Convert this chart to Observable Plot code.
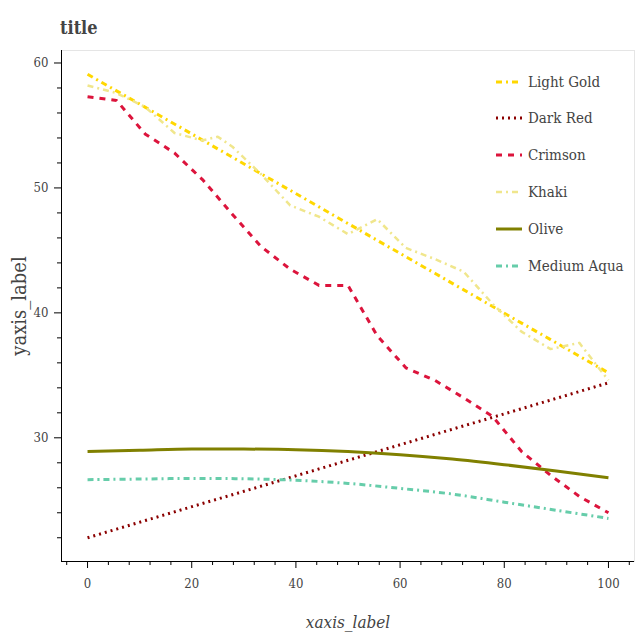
<!DOCTYPE html>
<html>
<head>
<meta charset="utf-8">
<script src="https://cdn.jsdelivr.net/npm/d3@7"></script>
<script src="https://cdn.jsdelivr.net/npm/@observablehq/plot@0.6"></script>
<style>
  body { margin: 0; background: #fff; }
  #wrap { position: relative; width: 640px; height: 640px; font-family: "DejaVu Serif Condensed", "DejaVu Serif", serif; font-stretch: condensed; }
  #title { position: absolute; left: 60px; top: 17px; font-weight: bold; font-size: 18px; color: #444; }
  #chart { position: absolute; left: 0; top: 40px; }
  .item { position: absolute; left: 496px; height: 20px; display: flex; align-items: center; font-size: 15px; color: #444; white-space: nowrap; }
  .item svg { margin-right: 6px; }
</style>
</head>
<body>
<div id="wrap">
  <div id="title">title</div>
  <div id="chart"></div>
</div>
<script>
// ---- data ----
const xs = [0, 5.56, 11.11, 16.67, 22.22, 27.78, 33.33, 38.89, 44.44, 50, 55.56, 61.11, 66.67, 72.22, 77.78, 83.33, 88.89, 94.44, 100];
const lightGold = [59.1, 57.77, 56.45, 55.12, 53.79, 52.46, 51.13, 49.81, 48.48, 47.15, 45.82, 44.49, 43.17, 41.84, 40.51, 39.18, 37.86, 36.53, 35.2];
const darkRed = [22.0, 22.69, 23.38, 24.07, 24.76, 25.44, 26.13, 26.82, 27.51, 28.2, 28.89, 29.58, 30.27, 30.96, 31.64, 32.33, 33.02, 33.71, 34.4];
const crimson = [57.3, 57.0, 54.3, 52.8, 50.6, 47.9, 45.3, 43.5, 42.2, 42.2, 38.2, 35.6, 34.6, 33.2, 31.7, 28.9, 27.0, 25.3, 24.0];
const khakiX = [0, 5.5, 11, 16.7, 22, 25, 27.8, 33.3, 38.9, 44.4, 50, 55.6, 61.1, 66.7, 72.2, 77.8, 83.3, 88.9, 94.4, 100];
const khaki = [58.2, 57.6, 56.5, 54.4, 53.8, 54.1, 53.3, 51.1, 48.6, 47.7, 46.3, 47.5, 45.2, 44.3, 43.3, 40.7, 38.5, 37.1, 37.6, 34.6];
const smoothX = [0, 10, 20, 30, 40, 50, 60, 70, 80, 90, 100];
const olive = [28.9, 29.0, 29.1, 29.1, 29.05, 28.9, 28.65, 28.3, 27.85, 27.35, 26.8];
const mediumAqua = [26.65, 26.7, 26.75, 26.72, 26.6, 26.35, 25.95, 25.5, 24.85, 24.2, 23.55];

const names = ["Light Gold", "Dark Red", "Crimson", "Khaki", "Olive", "Medium Aqua"];
const colors = ["#FFD700", "#8B0000", "#DC143C", "#F0E68C", "#808000", "#66CDAA"];
const dashes = ["6,4,2,4", "2,4", "6,6", "6,4,2,4", null, "6,4,2,4"];
const widths = [3, 3, 3, 2.5, 3, 3];

const xTicks = [0, 20, 40, 60, 80, 100];
const xMinor = [-4, 4, 8, 12, 16, 24, 28, 32, 36, 44, 48, 52, 56, 64, 68, 72, 76, 84, 88, 92, 96, 104];
const yTicks = [30, 40, 50, 60];
const yMinor = [22, 24, 26, 28, 32, 34, 36, 38, 42, 44, 46, 48, 52, 54, 56, 58];
const xDomain = [-5, 105];
const yDomain = [20.1, 61.0];

// ---- build table ----
const seriesData = [
  [xs, lightGold], [xs, darkRed], [xs, crimson], [khakiX, khaki], [smoothX, olive], [smoothX, mediumAqua]
];
const rows = [];
seriesData.forEach(([X, Y], k) => X.forEach((x, i) => rows.push({series: names[k], x, y: Y[i]})));

const curves = ["linear", "linear", "linear", "linear", "catmull-rom", "catmull-rom"];
const lineMarks = names.map((n, k) => Plot.line(rows.filter(r => r.series === n), {
  x: "x", y: "y", stroke: colors[k], strokeWidth: widths[k],
  strokeDasharray: dashes[k] ?? undefined, curve: curves[k], strokeLinecap: "butt"
}));

const font = '"DejaVu Serif Condensed", "DejaVu Serif", serif';
const chart = Plot.plot({
  width: 640, height: 600,
  marginTop: 10, marginLeft: 61, marginRight: 6, marginBottom: 79,
  x: {domain: xDomain, label: null, axis: null},
  y: {domain: yDomain, label: null, axis: null},
  style: {fontFamily: font, fontStretch: "condensed", fontSize: "13px", color: "black", background: "white", overflow: "visible"},
  marks: [
    Plot.frame({stroke: "#e5e5e5"}),
    ...lineMarks,
    Plot.ruleX([xDomain[0]], {stroke: "black"}),
    Plot.ruleY([yDomain[0]], {stroke: "black"}),
    Plot.axisX(xTicks, {anchor: "bottom", tickSize: 7, tickFormat: () => "", label: null, stroke: "black"}),
    Plot.axisX(xMinor, {anchor: "bottom", tickSize: 4, tickFormat: () => "", label: null, stroke: "black"}),
    Plot.axisY(yTicks, {anchor: "left", tickSize: 7, tickFormat: () => "", label: null, stroke: "black"}),
    Plot.axisY(yMinor, {anchor: "left", tickSize: 4, tickFormat: () => "", label: null, stroke: "black"}),
    Plot.text(xTicks, {x: d => d, frameAnchor: "bottom", lineAnchor: "middle", dy: 22, text: d => String(d), fill: "#444", fontSize: 13}),
    Plot.text(yTicks, {y: d => d, frameAnchor: "left", lineAnchor: "middle", dx: -13, textAnchor: "end", text: d => String(d), fill: "#444", fontSize: 13}),
    Plot.text(["xaxis_label"], {frameAnchor: "bottom", lineAnchor: "middle", textAnchor: "middle", dy: 61, text: d => d, fontStyle: "italic", fontSize: 17, fill: "#444"}),
    Plot.text(["yaxis_label"], {frameAnchor: "left", lineAnchor: "middle", textAnchor: "middle", dx: -42, rotate: -90, text: d => d, fontSize: 20, fill: "#444"})
  ]
});
document.getElementById("chart").appendChild(chart);

// ---- legend ----
const wrap = document.getElementById("wrap");
const legendTop = 81.5, legendStep = 36.9;
names.forEach((n, k) => {
  const div = document.createElement("div");
  div.className = "item";
  div.style.top = (legendTop + k * legendStep - 10) + "px";
  const dash = dashes[k] ? `stroke-dasharray="${dashes[k]}"` : "";
  div.innerHTML = `<svg width="26" height="20"><line x1="0" x2="26" y1="10" y2="10" stroke="${colors[k]}" stroke-width="${widths[k]}" ${dash}/></svg><span>${n}</span>`;
  wrap.appendChild(div);
});
</script>
</body>
</html>
